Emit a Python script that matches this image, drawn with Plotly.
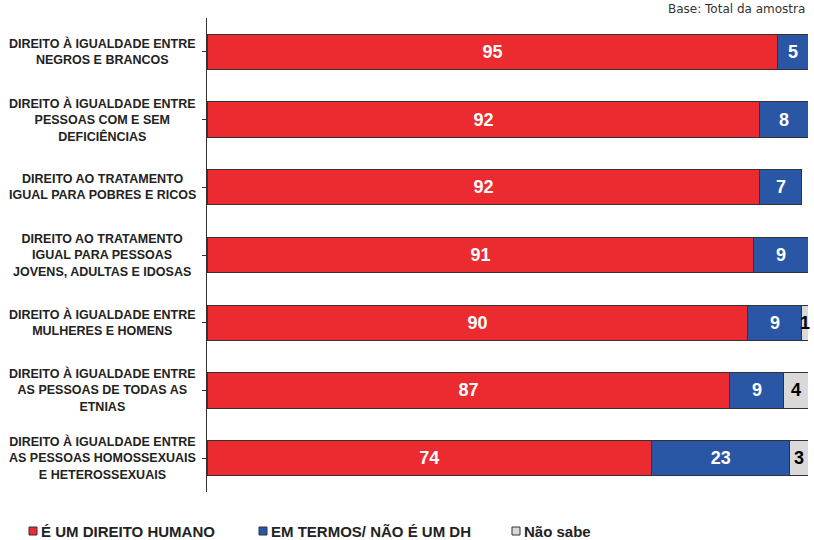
import plotly.graph_objects as go

categories = [
    "DIREITO À IGUALDADE ENTRE<br>NEGROS E BRANCOS",
    "DIREITO À IGUALDADE ENTRE<br>PESSOAS COM E SEM<br>DEFICIÊNCIAS",
    "DIREITO AO TRATAMENTO<br>IGUAL PARA POBRES E RICOS",
    "DIREITO AO TRATAMENTO<br>IGUAL PARA PESSOAS<br>JOVENS, ADULTAS E IDOSAS",
    "DIREITO À IGUALDADE ENTRE<br>MULHERES E HOMENS",
    "DIREITO À IGUALDADE ENTRE<br>AS PESSOAS DE TODAS AS<br>ETNIAS",
    "DIREITO À IGUALDADE ENTRE<br>AS PESSOAS HOMOSSEXUAIS<br>E HETEROSSEXUAIS",
]
direito_humano = [95, 92, 92, 91, 90, 87, 74]
em_termos = [5, 8, 7, 9, 9, 9, 23]
nao_sabe = [0, 0, 0, 0, 1, 4, 3]

series = [
    ("É UM DIREITO HUMANO", direito_humano, "#EC2B30", "white"),
    ("EM TERMOS/ NÃO É UM DH", em_termos, "#2A56A6", "white"),
    ("Não sabe", nao_sabe, "#D9D9D9", "black"),
]

FONT = "Liberation Sans, Arial"
OUTLINE = "#333333"

# plot area in pixels (used to place the hand-drawn legend and labels)
W, H = 814, 540
ML, MR, MT, MB = 207, 6, 18, 48
PW, PH = W - ML - MR, H - MT - MB


def px_x(px):
    return (px - ML) / PW


def px_y(py):
    return (H - MB - py) / PH


ids = list(range(len(categories)))

fig = go.Figure()
for name, vals, color, tcolor in series:
    fig.add_trace(go.Bar(
        name=name,
        y=ids,
        x=vals,
        orientation="h",
        marker=dict(color=color, line=dict(color=OUTLINE, width=1)),
        text=[str(v) if v else "" for v in vals],
        textposition="inside",
        insidetextanchor="middle",
        constraintext="none",
        textfont=dict(family=FONT, size=18, color=tcolor, weight="bold"),
        cliponaxis=False,
        hoverinfo="skip",
        showlegend=False,
    ))

annotations = []
for i, cat in enumerate(categories):
    annotations.append(dict(
        x=px_x(102), xref="paper", y=i, yref="y",
        text=cat, showarrow=False, xanchor="center", yanchor="middle",
        align="center",
        font=dict(family=FONT, size=12.5, color="#222222", weight="bold"),
    ))
annotations.append(dict(
    x=px_x(807), xref="paper", y=px_y(18), yref="paper",
    text="Base: Total da amostra", showarrow=False, xanchor="right", yanchor="bottom",
    font=dict(family="DejaVu Sans", size=12, color="#333333"),
))

# legend: small outlined squares followed by bold labels
shapes = []
legend_x = [29, 259, 512]
legend_y = 531
for (name, _, color, _), lx in zip(series, legend_x):
    shapes.append(dict(
        type="rect", xref="paper", yref="paper",
        x0=px_x(lx), x1=px_x(lx + 8), y0=px_y(legend_y - 4), y1=px_y(legend_y + 4),
        fillcolor=color, line=dict(color=OUTLINE, width=1),
    ))
    annotations.append(dict(
        x=px_x(lx + 10), xref="paper", y=px_y(legend_y), yref="paper",
        text=name, showarrow=False, xanchor="left", yanchor="middle",
        font=dict(family=FONT, size=15, color="#222222", weight="bold"),
    ))

fig.update_layout(
    width=W, height=H,
    margin=dict(l=ML, r=MR, t=MT, b=MB),
    paper_bgcolor="white", plot_bgcolor="white",
    barmode="stack",
    bargap=0.48,
    showlegend=False,
    xaxis=dict(range=[0, 100], visible=False, fixedrange=True),
    yaxis=dict(
        range=[6.5, -0.5],
        tickmode="array", tickvals=ids, ticktext=[""] * len(ids),
        tickson="boundaries", ticks="outside", ticklen=4, tickcolor="#333333",
        showline=True, linecolor="#333333", linewidth=1,
        showgrid=False, zeroline=False, showticklabels=False,
    ),
    annotations=annotations,
    shapes=shapes,
)

fig.write_html("out.html")
